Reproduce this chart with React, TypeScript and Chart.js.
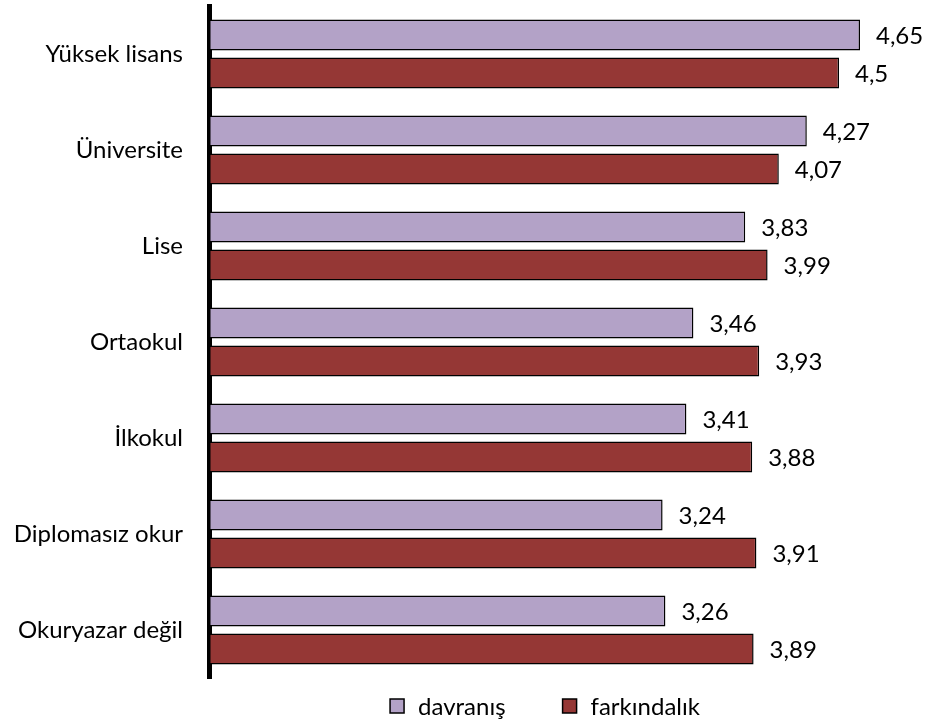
import React, { useEffect, useRef } from "react";
import { Chart, registerables } from "chart.js";

Chart.register(...registerables);

const categories = [
  "Yüksek lisans",
  "Üniversite",
  "Lise",
  "Ortaokul",
  "İlkokul",
  "Diplomasız okur",
  "Okuryazar değil",
];
const davranis = [4.65, 4.27, 3.83, 3.46, 3.41, 3.24, 3.26];
const farkindalik = [4.5, 4.07, 3.99, 3.93, 3.88, 3.91, 3.89];
const seriesNames = ["davranış", "farkındalık"];
const seriesColors = ["#B3A2C7", "#953735"];

const FONT = "Lato, 'Open Sans', sans-serif";
const FSIZE = 24;

const valueLabels = {
  id: "valueLabels",
  afterDatasetsDraw(chart: any) {
    const ctx = chart.ctx;
    ctx.save();
    ctx.font = `${FSIZE}px ${FONT}`;
    ctx.fillStyle = "#000";
    ctx.textAlign = "left";
    ctx.textBaseline = "middle";
    chart.data.datasets.forEach((ds: any, i: number) => {
      const meta = chart.getDatasetMeta(i);
      meta.data.forEach((el: any, j: number) => {
        const txt = String(ds.data[j]).replace(".", ",");
        ctx.fillText(txt, el.x + 16, el.y + 1);
      });
    });
    ctx.restore();
  },
};

const bottomLegend = {
  id: "bottomLegend",
  afterDraw(chart: any) {
    const ctx = chart.ctx;
    const area = chart.chartArea;
    ctx.save();
    ctx.font = `${FSIZE}px ${FONT}`;
    ctx.textBaseline = "middle";
    ctx.textAlign = "left";
    const box = 14;
    const textGap = 14;
    const itemGap = 57;
    const items = chart.data.datasets.map((ds: any) => ({
      label: ds.label,
      color: ds.backgroundColor,
      w: box + textGap + ctx.measureText(ds.label).width,
    }));
    const total = items.reduce((s: number, it: any) => s + it.w, 0) + itemGap * (items.length - 1);
    const cx = (area.left + area.right) / 2 - 14;
    let x = cx - total / 2;
    const y = area.bottom + 28;
    items.forEach((it: any) => {
      ctx.fillStyle = it.color;
      ctx.fillRect(x, y - box / 2, box, box);
      ctx.strokeStyle = "#000";
      ctx.lineWidth = 1.5;
      ctx.strokeRect(x, y - box / 2, box, box);
      ctx.fillStyle = "#000";
      ctx.fillText(it.label, x + box + textGap, y + 1);
      x += it.w + itemGap;
    });
    ctx.restore();
  },
};

export default function App() {
  const ref = useRef<HTMLCanvasElement>(null);
  useEffect(() => {
    const chart = new Chart(ref.current!, {
      type: "bar",
      data: {
        labels: categories,
        datasets: [
          {
            label: seriesNames[0],
            data: davranis,
            backgroundColor: seriesColors[0],
            borderColor: "#000",
            borderWidth: 1.5,
            borderSkipped: false,
            categoryPercentage: 0.79,
            barPercentage: 0.816,
          },
          {
            label: seriesNames[1],
            data: farkindalik,
            backgroundColor: seriesColors[1],
            borderColor: "#000",
            borderWidth: 1.5,
            borderSkipped: false,
            categoryPercentage: 0.79,
            barPercentage: 0.816,
          },
        ],
      },
      options: {
        indexAxis: "y",
        animation: false,
        responsive: true,
        maintainAspectRatio: false,
        layout: { padding: { top: 6, right: 20, left: 0, bottom: 44 } },
        scales: {
          x: {
            display: false,
            min: 0,
            max: 5,
          },
          y: {
            grid: { display: false, drawTicks: false },
            border: { display: true, color: "#000", width: 5 },
            ticks: {
              color: "#000",
              font: { family: FONT, size: FSIZE },
              padding: 26,
            },
            afterFit(scale: any) {
              scale.width = 209;
              scale.paddingTop = 0;
              scale.paddingBottom = 0;
            },
          },
        },
        plugins: {
          legend: { display: false },
          tooltip: { enabled: false },
        },
      },
      plugins: [valueLabels, bottomLegend],
    });
    return () => chart.destroy();
  }, []);
  return (
    <div style={{ position: "absolute", left: 0, top: 0, width: 929, height: 722 }}>
      <canvas ref={ref} />
    </div>
  );
}
